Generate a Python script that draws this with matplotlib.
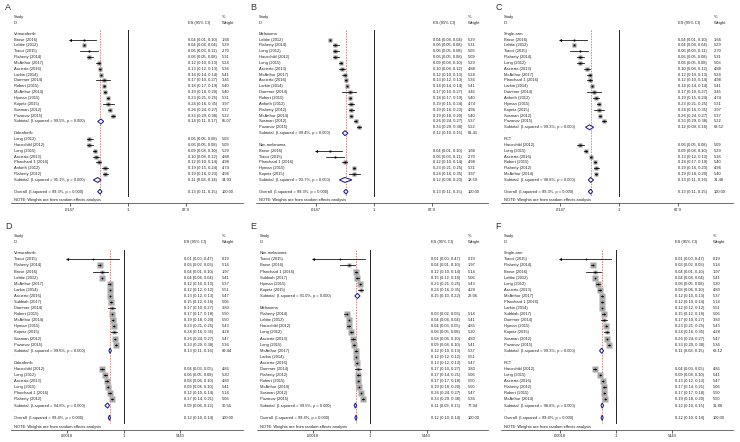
import numpy as np
import matplotlib.pyplot as plt
from matplotlib.patches import Polygon
from matplotlib.ticker import NullLocator

plt.rcParams['font.family'] = ['Liberation Sans', 'DejaVu Sans']

W, H = 740, 442
FS = 2.9

# outcome 1 (panels A-C): ES, 95% CI, % weight
o1_study = ["Brose (2016)", "Lebbe (2012)", "Tiacci (2015)", "Flaherty (2014)", "McArthur (2017)",
            "Ascierto (2016)", "Larkin (2014)", "Dummer (2014)", "Robert (2015)", "McArthur (2014)",
            "Hyman (2015)", "Kopetz (2015)", "Sosman (2012)", "Puzanov (2015)", "Long (2012)",
            "Hauschild (2012)", "Long (2015)", "Ascierto (2013)", "Planchard 1 (2016)", "Anforth (2012)",
            "Flaherty (2012)"]
o1_es = [0.04, 0.04, 0.06, 0.06, 0.12, 0.13, 0.14, 0.17, 0.18, 0.19, 0.23, 0.24, 0.26, 0.33,
         0.06, 0.06, 0.09, 0.10, 0.12, 0.19, 0.19]
o1_lo = [0.01, 0.04, 0.03, 0.05, 0.10, 0.12, 0.14, 0.10, 0.17, 0.18, 0.21, 0.16, 0.24, 0.29,
         0.05, 0.05, 0.08, 0.08, 0.10, 0.15, 0.16]
o1_hi = [0.10, 0.04, 0.11, 0.08, 0.13, 0.13, 0.14, 0.27, 0.19, 0.20, 0.25, 0.35, 0.27, 0.38,
         0.08, 0.08, 0.10, 0.12, 0.14, 0.24, 0.23]
o1_wt = [1.66, 5.29, 2.70, 5.31, 5.24, 5.36, 5.41, 3.45, 5.40, 5.40, 5.31, 3.97, 5.37, 5.22,
         5.03, 5.09, 5.29, 4.88, 4.98, 4.74, 4.96]

# outcome 2 (panels D-F)
o2_study = ["Tiacci (2015)", "Flaherty (2014)", "Brose (2016)", "Lebbe (2012)", "McArthur (2017)",
            "Larkin (2014)", "Ascierto (2016)", "Subbiah (2017)", "Dummer (2014)", "Robert (2015)",
            "McArthur (2014)", "Hyman (2015)", "Kopetz (2015)", "Sosman (2012)", "Puzanov (2015)",
            "Hauschild (2012)", "Long (2012)", "Ascierto (2013)", "Long (2015)", "Planchard 1 (2016)",
            "Flaherty (2012)"]
o2_es = [0.01, 0.03, 0.04, 0.04, 0.12, 0.12, 0.13, 0.15, 0.17, 0.17, 0.19, 0.23, 0.24, 0.26, 0.33,
         0.04, 0.06, 0.08, 0.09, 0.12, 0.17]
o2_lo = [0.00, 0.02, 0.01, 0.04, 0.10, 0.12, 0.12, 0.12, 0.10, 0.17, 0.18, 0.21, 0.16, 0.24, 0.29,
         0.03, 0.05, 0.06, 0.08, 0.10, 0.14]
o2_hi = [0.47, 0.03, 0.10, 0.04, 0.13, 0.12, 0.13, 0.18, 0.27, 0.18, 0.20, 0.25, 0.35, 0.27, 0.38,
         0.05, 0.08, 0.10, 0.10, 0.14, 0.21]
o2_wt = [0.19, 5.14, 1.97, 5.41, 5.37, 5.51, 5.47, 5.06, 3.80, 5.50, 5.50, 5.43, 4.28, 5.47, 5.36,
         4.85, 5.20, 4.80, 5.41, 5.14, 5.06]

# subgroups (study order as plotted); subtotal = es, lo, hi, weight, I-squared
a_groups = ["Vemurafenib", "Dabrafenib"]
a_members = [["Brose (2016)", "Lebbe (2012)", "Tiacci (2015)", "Flaherty (2014)", "McArthur (2017)",
              "Ascierto (2016)", "Larkin (2014)", "Dummer (2014)", "Robert (2015)", "McArthur (2014)",
              "Hyman (2015)", "Kopetz (2015)", "Sosman (2012)", "Puzanov (2015)"],
             ["Long (2012)", "Hauschild (2012)", "Long (2015)", "Ascierto (2013)", "Planchard 1 (2016)",
              "Anforth (2012)", "Flaherty (2012)"]]
a_sub = [(0.14, 0.11, 0.17, 65.07, 99.5), (0.11, 0.08, 0.14, 34.93, 95.1)]

b_groups = ["Melanoma", "Non-melanoma"]
b_members = [["Lebbe (2012)", "Flaherty (2014)", "Long (2012)", "Hauschild (2012)", "Long (2015)",
              "Ascierto (2013)", "McArthur (2017)", "Ascierto (2016)", "Larkin (2014)", "Dummer (2014)",
              "Robert (2015)", "Anforth (2012)", "Flaherty (2012)", "McArthur (2014)", "Sosman (2012)",
              "Puzanov (2015)"],
             ["Brose (2016)", "Tiacci (2015)", "Planchard 1 (2016)", "Hyman (2015)", "Kopetz (2015)"]]
b_sub = [(0.12, 0.10, 0.15, 81.41, 99.4), (0.12, 0.08, 0.20, 18.59, 93.7)]

c_groups = ["Single-arm", "RCT"]
c_members = [["Brose (2016)", "Lebbe (2012)", "Tiacci (2015)", "Flaherty (2014)", "Long (2012)",
              "Ascierto (2013)", "McArthur (2017)", "Planchard 1 (2016)", "Larkin (2014)", "Dummer (2014)",
              "Anforth (2012)", "Hyman (2015)", "Kopetz (2015)", "Sosman (2012)", "Puzanov (2015)"],
             ["Hauschild (2012)", "Long (2015)", "Ascierto (2016)", "Robert (2015)", "Flaherty (2012)",
              "McArthur (2014)"]]
c_sub = [(0.12, 0.09, 0.16, 68.52, 99.3), (0.13, 0.11, 0.16, 31.48, 98.8)]
o1_overall = (0.13, 0.11, 0.15, 100.00, 99.3)

d_groups = ["Vemurafenib", "Dabrafenib"]
d_members = [["Tiacci (2015)", "Flaherty (2014)", "Brose (2016)", "Lebbe (2012)", "McArthur (2017)",
              "Larkin (2014)", "Ascierto (2016)", "Subbiah (2017)", "Dummer (2014)", "Robert (2015)",
              "McArthur (2014)", "Hyman (2015)", "Kopetz (2015)", "Sosman (2012)", "Puzanov (2015)"],
             ["Hauschild (2012)", "Long (2012)", "Ascierto (2013)", "Long (2015)", "Planchard 1 (2016)",
              "Flaherty (2012)"]]
d_sub = [(0.13, 0.11, 0.16, 69.44, 99.6), (0.09, 0.06, 0.12, 30.56, 94.8)]

e_groups = ["Non-melanoma", "Melanoma"]
e_members = [["Tiacci (2015)", "Brose (2016)", "Planchard 1 (2016)", "Subbiah (2017)", "Hyman (2015)",
              "Kopetz (2015)"],
             ["Flaherty (2014)", "Lebbe (2012)", "Hauschild (2012)", "Long (2012)", "Ascierto (2013)",
              "Long (2015)", "McArthur (2017)", "Larkin (2014)", "Ascierto (2016)", "Dummer (2014)",
              "Flaherty (2012)", "Robert (2015)", "McArthur (2014)", "Sosman (2012)", "Puzanov (2015)"]]
e_sub = [(0.15, 0.10, 0.22, 22.06, 91.0), (0.11, 0.09, 0.13, 77.94, 99.5)]

f_groups = ["Single-arm", "RCT"]
f_members = [["Tiacci (2015)", "Flaherty (2014)", "Brose (2016)", "Lebbe (2012)", "Long (2012)",
              "Ascierto (2013)", "McArthur (2017)", "Planchard 1 (2016)", "Larkin (2014)", "Subbiah (2017)",
              "Dummer (2014)", "Hyman (2015)", "Kopetz (2015)", "Sosman (2012)", "Puzanov (2015)"],
             ["Hauschild (2012)", "Long (2015)", "Ascierto (2016)", "Flaherty (2012)", "Robert (2015)",
              "McArthur (2014)"]]
f_sub = [(0.11, 0.08, 0.15, 68.12, 99.3), (0.12, 0.10, 0.15, 31.88, 98.8)]
o2_overall = (0.12, 0.10, 0.14, 100.00, 99.4)

ticks1 = [0.0147, 1, 67.9]
ticklab1 = [".0147", "1", "67.9"]
ticks2 = [0.00018, 1, 5443]
ticklab2 = [".00018", "1", "5443"]

fig = plt.figure(figsize=(7.4, 4.42), dpi=100)


def forest(letter, x0, y0, study_x, es_x, wt_x, one_x, dec, row0, drow, box_k, box_c,
           ticks, ticklab, data, groups, members, subs, overall):
    study, es, lo, hi, wt = data
    idx = {s: i for i, s in enumerate(study)}
    L = study_x - 3
    R = x0 + 243
    T = y0 + 10
    B = row0 + 29 * drow
    ax = fig.add_axes([L / W, 1 - B / H, (R - L) / W, (B - T) / H])
    ax.set_xscale('log')
    ax.set_xlim(10 ** ((L - one_x) / dec), 10 ** ((R - one_x) / dec))
    ax.set_ylim(29, (T - row0) / drow)
    tr = ax.get_yaxis_transform()
    fx = lambda px: (px - L) / (R - L)
    kw = dict(fontsize=FS, va='center', ha='left', transform=tr, color='#222222')

    def txt(px, r, s):
        ax.text(fx(px), r, s, **kw)

    def cols(r, name, e, l, h, w):
        txt(study_x, r, name)
        txt(es_x, r, "%.2f (%.2f, %.2f)" % (e, l, h))
        txt(wt_x, r, "%.2f" % w)

    def diamond(r, e, l, h):
        ax.add_patch(Polygon([(l, r), (e, r - 0.42), (h, r), (e, r + 0.42)], closed=True,
                             fc='white', ec='#1c1c8a', lw=0.75, zorder=4))

    txt(study_x, -2.85, "Study")
    txt(study_x, -1.83, "ID")
    txt(es_x, -1.83, "ES (95% CI)")
    txt(wt_x, -2.85, "%")
    txt(wt_x, -1.83, "Weight")

    r = 0
    for g, mem, sub in zip(groups, members, subs):
        txt(study_x, r, g)
        r += 1
        for s in mem:
            i = idx[s]
            e, l, h, w = es[i], lo[i], hi[i], wt[i]
            ax.plot([e], [r], marker='s', ms=box_k * np.sqrt(w) * 0.72, color=box_c,
                    mec='none', zorder=2)
            left = max(l, ticks[0])
            ax.plot([left, h], [r, r], color='k', lw=0.55, zorder=3)
            if l < ticks[0]:
                ax.plot([left], [r], marker='<', ms=2.2, color='k', mec='none', zorder=3)
            ax.plot([e], [r], marker='o', ms=1.3, color='k', mec='none', zorder=4)
            cols(r, s, e, l, h, w)
            r += 1
        e, l, h, w, i2 = sub
        diamond(r, e, l, h)
        cols(r, "Subtotal  (I-squared = %.1f%%, p = 0.000)" % i2, e, l, h, w)
        r += 1
        txt(study_x, r - 0.3, ".")
        r += 1
    e, l, h, w, i2 = overall
    diamond(r, e, l, h)
    cols(r, "Overall  (I-squared = %.1f%%, p = 0.000)" % i2, e, l, h, w)
    txt(study_x, 28.5, "NOTE: Weights are from random effects analysis")

    ax.plot([1, 1], [-0.6, 27.8], color='#222222', lw=0.7, zorder=1)
    ax.plot([e, e], [-0.6, 27.8], color='#b84a3e', lw=0.45, ls=(0, (2.5, 1.8)), zorder=1)

    for sp in ['top', 'left', 'right']:
        ax.spines[sp].set_visible(False)
    ax.spines['bottom'].set_linewidth(0.5)
    ax.spines['bottom'].set_color('#333333')
    ax.set_yticks([])
    ax.set_xticks(ticks)
    ax.set_xticklabels(ticklab)
    ax.xaxis.set_minor_locator(NullLocator())
    ax.tick_params(axis='x', length=2, width=0.5, labelsize=FS, pad=1, colors='#222222')
    ax.patch.set_alpha(0)
    fig.text((x0 + 5) / W, 1 - (y0 + 7) / H, letter, fontsize=6.5, va='center', ha='left',
             color='#333333')


d1 = (o1_study, o1_es, o1_lo, o1_hi, o1_wt)
d2 = (o2_study, o2_es, o2_lo, o2_hi, o2_wt)

forest("A", 0, 0, 14, 188, 222, 128, 31.6, 33.7, 5.85, 1.75, '#8c8c8c', ticks1, ticklab1, d1,
       a_groups, a_members, a_sub, o1_overall)
forest("B", 245, 0, 259, 433, 468, 374, 31.6, 33.7, 5.85, 1.75, '#8c8c8c', ticks1, ticklab1, d1,
       b_groups, b_members, b_sub, o1_overall)
forest("C", 490, 0, 504, 678, 714, 619, 32, 33.7, 5.85, 1.75, '#8c8c8c', ticks1, ticklab1, d1,
       c_groups, c_members, c_sub, o1_overall)
forest("D", 0, 220, 14, 184, 222, 123.5, 15.2, 253.3, 6.09, 2.35, '#a9a9a9', ticks2, ticklab2, d2,
       d_groups, d_members, d_sub, o2_overall)
forest("E", 245, 220, 260, 431, 468, 370, 15.2, 253.3, 6.09, 2.35, '#a9a9a9', ticks2, ticklab2, d2,
       e_groups, e_members, e_sub, o2_overall)
forest("F", 490, 220, 504, 675, 713, 616, 15, 253.3, 6.09, 2.35, '#a9a9a9', ticks2, ticklab2, d2,
       f_groups, f_members, f_sub, o2_overall)

fig.savefig("out.png", dpi=100, facecolor='white')
